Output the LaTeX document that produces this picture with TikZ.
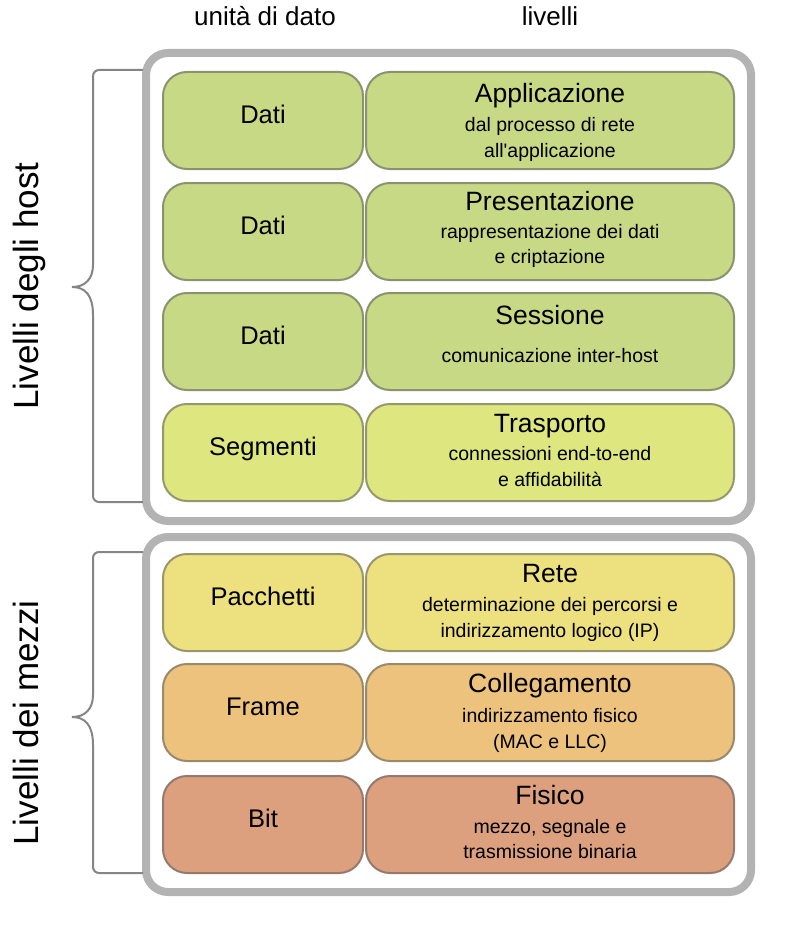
\documentclass[tikz,border=0pt]{standalone}
\usepackage{fontspec}
\setmainfont{Liberation Sans}[Ligatures=TeXOff]
\definecolor{cGreen}{HTML}{C8D986}
\definecolor{cLime}{HTML}{DEE680}
\definecolor{cYellow}{HTML}{EDE07F}
\definecolor{cOrange}{HTML}{ECC27D}
\definecolor{cBrown}{HTML}{DCA07E}
\definecolor{cFrame}{HTML}{B3B3B3}
\definecolor{cBrace}{HTML}{858585}
\tikzset{
  layerbox/.style={rounded corners=24pt, line width=2pt, fill=#1, draw=#1!50!gray!85!black, minimum height=97pt, inner sep=0pt},
  unitbox/.style={layerbox=#1, minimum width=200pt},
  levelbox/.style={layerbox=#1, minimum width=368pt},
  outerbox/.style={rounded corners=22pt, line width=8pt, draw=cFrame, inner sep=0pt},
  bracestyle/.style={line width=2pt, draw=cBrace},
  hdr/.style={anchor=base, inner sep=0pt, font=\fontsize{26}{30}\selectfont},
  unitlbl/.style={anchor=base, inner sep=0pt, font=\fontsize{25.5}{30}\selectfont},
  titlelbl/.style={anchor=base, inner sep=0pt, font=\fontsize{26.5}{31}\selectfont},
  sublbl/.style={anchor=base, inner sep=0pt, font=\fontsize{19.5}{23}\selectfont},
  sidelbl/.style={anchor=base, rotate=90, inner sep=0pt, font=\fontsize{35}{40}\selectfont},
}
\begin{document}
\begin{tikzpicture}[x=1pt,y=-1pt]
\useasboundingbox[fill=white] (0,0) rectangle (800,942);
% headers
\node[hdr] (hunit) at (265,26) {unità di dato};
\node[hdr] (hlev) at (550,26) {livelli};
% outer frames
\node[outerbox, minimum width=605pt, minimum height=468pt] (hostframe) at (448.5,287) {};
\node[outerbox, minimum width=605pt, minimum height=355pt] (mediaframe) at (448.5,714.5) {};
% braces
\coordinate (hTop) at (143,70);
\coordinate (hTip) at (72,287);
\coordinate (hBot) at (143,502);
\draw[bracestyle, rounded corners=6pt] (hTop) -- (93,70) -- (93,259) [sharp corners] .. controls (93,279) and (85,287) .. (hTip) .. controls (85,287) and (93,295) .. (93,315) [rounded corners=6pt] -- (93,502) -- (hBot);
\coordinate (mTop) at (143,552);
\coordinate (mTip) at (72,717);
\coordinate (mBot) at (143,873);
\draw[bracestyle, rounded corners=6pt] (mTop) -- (93,552) -- (93,689) [sharp corners] .. controls (93,709) and (85,717) .. (mTip) .. controls (85,717) and (93,725) .. (93,745) [rounded corners=6pt] -- (93,873) -- (mBot);
\node[sidelbl] (hostlbl) at (38,286) {Livelli degli host};
\node[sidelbl] (medialbl) at (38,723) {Livelli dei mezzi};
% rows: tops 71,182,292,403,553,663,775
\node[unitbox=cGreen] (u1) at (263,120.5) {};
\node[levelbox=cGreen] (l1) at (550,120.5) {};
\node[unitbox=cGreen] (u2) at (263,231.5) {};
\node[levelbox=cGreen] (l2) at (550,231.5) {};
\node[unitbox=cGreen] (u3) at (263,341.5) {};
\node[levelbox=cGreen] (l3) at (550,341.5) {};
\node[unitbox=cLime] (u4) at (263,452.5) {};
\node[levelbox=cLime] (l4) at (550,452.5) {};
\node[unitbox=cYellow] (u5) at (263,602.5) {};
\node[levelbox=cYellow] (l5) at (550,602.5) {};
\node[unitbox=cOrange] (u6) at (263,712.5) {};
\node[levelbox=cOrange] (l6) at (550,712.5) {};
\node[unitbox=cBrown] (u7) at (263,824.5) {};
\node[levelbox=cBrown] (l7) at (550,824.5) {};
% unit labels
\node[unitlbl] (tu1) at (263,123.5) {Dati};
\node[unitlbl] (tu2) at (263,234.5) {Dati};
\node[unitlbl] (tu3) at (263,344.5) {Dati};
\node[unitlbl] (tu4) at (263,455.5) {Segmenti};
\node[unitlbl] (tu5) at (263,605.5) {Pacchetti};
\node[unitlbl] (tu6) at (263,715.5) {Frame};
\node[unitlbl] (tu7) at (263,827.5) {Bit};
% level labels
\node[titlelbl] (tl1) at (550,102) {Applicazione};
\node[sublbl] (sa1) at (550,131) {dal processo di rete};
\node[sublbl] (sb1) at (550,157) {all'applicazione};
\node[titlelbl] (tl2) at (550,210) {Presentazione};
\node[sublbl] (sa2) at (550,238) {rappresentazione dei dati};
\node[sublbl] (sb2) at (550,263) {e criptazione};
\node[titlelbl] (tl3) at (550,324) {Sessione};
\node[sublbl] (sa3) at (550,362) {comunicazione inter-host};
\node[titlelbl] (tl4) at (550,432) {Trasporto};
\node[sublbl] (sa4) at (550,460) {connessioni end-to-end};
\node[sublbl] (sb4) at (550,486) {e affidabilità};
\node[titlelbl] (tl5) at (550,582) {Rete};
\node[sublbl] (sa5) at (550,611) {determinazione dei percorsi e};
\node[sublbl] (sb5) at (550,637) {indirizzamento logico (IP)};
\node[titlelbl] (tl6) at (550,692) {Collegamento};
\node[sublbl] (sa6) at (550,722) {indirizzamento fisico};
\node[sublbl] (sb6) at (550,748) {(MAC e LLC)};
\node[titlelbl] (tl7) at (550,804) {Fisico};
\node[sublbl] (sa7) at (550,833) {mezzo, segnale e};
\node[sublbl] (sb7) at (550,858) {trasmissione binaria};
\end{tikzpicture}
\end{document}
